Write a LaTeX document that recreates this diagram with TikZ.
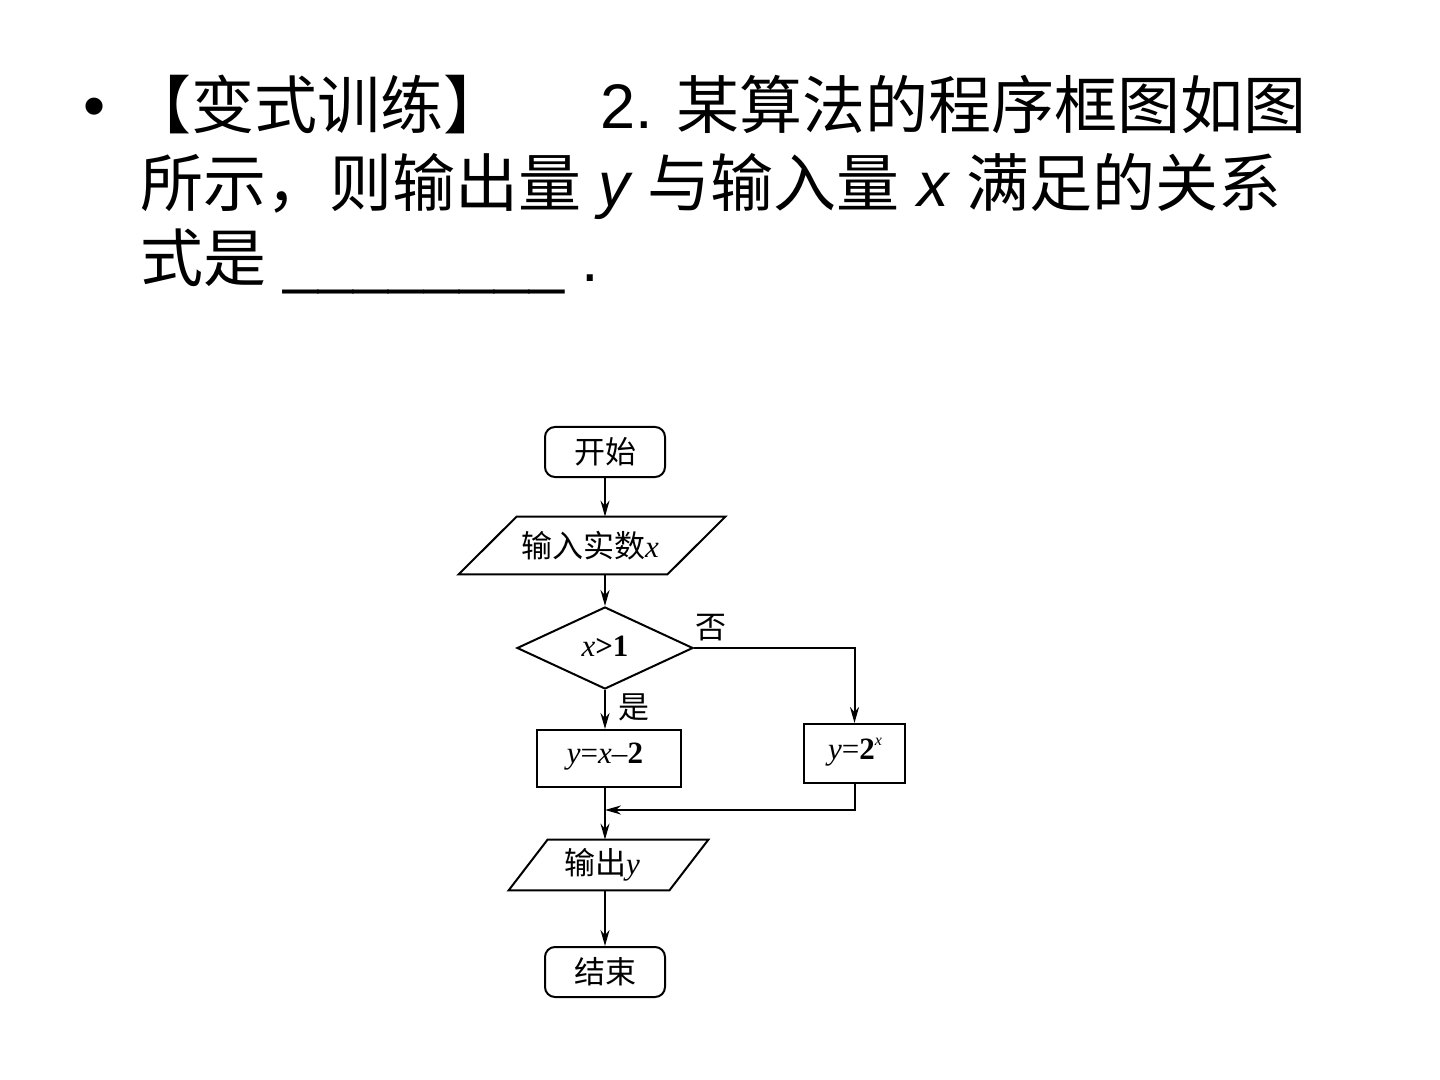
\documentclass[tikz,border=0pt]{standalone}
\usepackage{fontspec}
\setmainfont{Liberation Sans}
\newfontfamily\cjk{Noto Sans CJK SC}
\newfontfamily\tms{Liberation Serif}
\usetikzlibrary{arrows.meta,shapes.geometric,calc}
\begin{document}
\begin{tikzpicture}[x=0.5pt,y=-0.5pt,
  title/.style={inner sep=0pt,anchor=base west,font=\fontsize{31.5pt}{38pt}\selectfont},
  fc/.style={font=\fontsize{15.5pt}{18pt}\selectfont\cjk},
  line/.style={line width=1pt},
  arr/.style={line width=1pt,-{Stealth[length=8pt,width=4.5pt]}},
  termbox/.style={draw,line width=1pt,rounded corners=5pt,minimum width=60pt,minimum height=25pt,inner sep=0pt,fc},
  procbox/.style={draw,line width=1pt,inner sep=0pt,fc},
  iobox/.style={inner sep=0pt,fc},
  decbox/.style={draw,line width=1pt,diamond,inner sep=0pt,minimum width=88pt,minimum height=41pt,fc},
  lab/.style={inner sep=0pt,fc}]
\useasboundingbox (0,0) rectangle (1440,1080);
\fill[white] (0,0) rectangle (1440,1080);

% title
\node[inner sep=0pt,font=\fontsize{31.5pt}{38pt}\selectfont] (bul) at (95,113) {•};
\node[title] (t1a) at (128,129) {\cjk 【变式训练】};
\node[title] (t1b) at (600,129) {2. {\cjk 某算法的程序框图如图}};
\node[title] (t2) at (140,207) {{\cjk 所示，则输出量} {\itshape y} {\cjk 与输入量} {\itshape x} {\cjk 满足的关系}};
\node[title] (t3) at (140,282) {{\cjk 式是} \_\_\_\_\_\_\_\_ .};

% flowchart
\node[termbox] (start) at (605,452) {开始};
\node[iobox,minimum width=104pt,minimum height=28.5pt] (in) at (592,545.5) {};
\draw[line] ($(in.north west)+(29,0)$) -- ($(in.north east)+(29,0)$) -- ($(in.south east)-(29,0)$) -- ($(in.south west)-(29,0)$) -- cycle;
\node[lab] (intext) at (590,546) {输入实数{\tms\itshape x}};
\node[decbox] (dec) at (605,648) {};
\node[lab] (dectext) at (605,646) {{\tms\itshape x}{\tms\bfseries >1}};
\node[procbox,minimum width=72pt,minimum height=28.5pt] (l) at (609,758.5) {};
\node[lab] (ltext) at (605,757) {\tms{\itshape y}={\itshape x}–\textbf{2}};
\node[procbox,minimum width=50.5pt,minimum height=29.5pt] (r) at (854.5,753.5) {};
\node[lab] (rtext) at (855,752) {\tms{\itshape y}=\textbf{2}\raisebox{0.45em}{\fontsize{8pt}{9pt}\selectfont\itshape x}};
\node[iobox,minimum width=80pt,minimum height=25pt] (out) at (608.5,865) {};
\draw[line] ($(out.north west)+(19.5,0)$) -- ($(out.north east)+(19.5,0)$) -- ($(out.south east)-(19.5,0)$) -- ($(out.south west)-(19.5,0)$) -- cycle;
\node[lab] (outtext) at (602,865) {输出{\tms\itshape y}};
\node[termbox] (end) at (605,972) {结束};

\node[lab] (no) at (711,628) {否};
\node[lab] (yes) at (634,707) {是};
\coordinate (j) at (605,810);

\draw[arr] (start.south) -- (start.south |- in.north);
\draw[arr] (dec.north |- in.south) -- (dec.north);
\draw[arr] (dec.east) -- (dec.east -| r.north) -- (r.north);
\draw[arr] (dec.south) -- (dec.south |- l.north);
\draw[arr] (dec.south |- l.south) -- (dec.south |- out.north);
\draw[arr] (r.south) |- (j);
\draw[arr] (end.north |- out.south) -- (end.north);
\end{tikzpicture}
\end{document}
